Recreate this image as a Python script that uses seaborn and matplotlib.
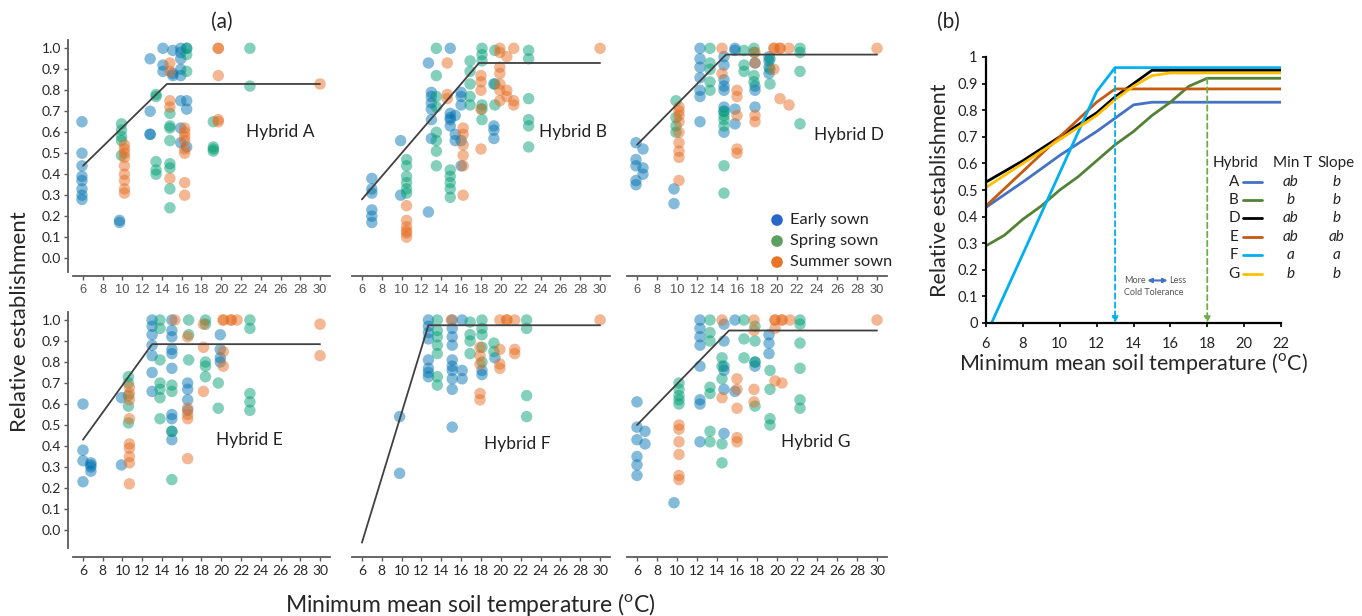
import matplotlib
matplotlib.use("Agg")
import matplotlib.pyplot as plt
import pandas as pd
import seaborn as sns

sns.set_style("white")
plt.rcParams['font.family'] = ['Lato', 'DejaVu Sans']
plt.rcParams['mathtext.fontset'] = 'custom'
plt.rcParams['mathtext.rm'] = 'Lato'

# ---------------- data : panel (a) ----------------
sowings = ["Early sown", "Spring sown", "Summer sown"]
x_ticks_a = [6, 8, 10, 12, 14, 16, 18, 20, 22, 24, 26, 28, 30]
y_ticks_a = [0.0, 0.1, 0.2, 0.3, 0.4, 0.5, 0.6, 0.7, 0.8, 0.9, 1.0]

A_early = [(5.9, [0.65, 0.50, 0.44, 0.39, 0.37, 0.33, 0.30, 0.28]), (9.7, [0.18, 0.17]),
           (12.8, [0.95, 0.70, 0.59, 0.59]), (14.1, [1.0, 0.92, 0.89]), (15.1, [0.99, 0.87, 0.88]),
           (15.9, [1.0, 0.98, 0.95, 0.90, 0.87, 0.75, 0.62, 0.55]), (16.5, [1.0, 0.75, 0.71, 0.53])]
A_spring = [(9.9, [0.64, 0.61, 0.58, 0.56, 0.49]), (13.4, [0.77, 0.78, 0.46, 0.42, 0.40]),
            (14.8, [0.69, 0.63, 0.62, 0.56, 0.45, 0.43, 0.33, 0.24]), (16.5, [1.0, 0.97, 0.89]),
            (19.2, [0.65, 0.53, 0.51, 0.52]), (22.9, [1.0, 0.82])]
A_summer = [(10.2, [0.54, 0.52, 0.50, 0.48, 0.44, 0.40, 0.37, 0.33, 0.31]),
            (14.8, [0.93, 0.89, 0.75, 0.72, 0.38]),
            (16.3, [0.62, 0.60, 0.58, 0.56, 0.52, 0.50, 0.36, 0.30]),
            (19.7, [1.0, 1.0, 0.87, 0.66, 0.65]), (30.0, [0.83])]

B_early = [(7.0, [0.38, 0.33, 0.31, 0.23, 0.20, 0.17]), (9.9, [0.56, 0.30]), (12.7, [0.93, 0.22]),
           (13.0, [0.79, 0.77, 0.74, 0.71, 0.66, 0.57]), (14.9, [1.0, 0.69, 0.67, 0.66, 0.63]),
           (15.4, [0.59, 0.56, 0.68]), (16.0, [0.79, 0.77, 0.73, 0.56, 0.44]),
           (19.3, [0.83, 0.63, 0.61, 0.57])]
B_spring = [(10.5, [0.47, 0.44, 0.39, 0.36, 0.33, 0.31]),
            (13.5, [1.0, 0.87, 0.77, 0.72, 0.60, 0.56, 0.51, 0.44]),
            (14.9, [0.42, 0.39, 0.36, 0.33, 0.29]), (16.9, [0.94, 0.89, 0.83, 0.77, 0.73]),
            (18.1, [1.0, 0.97, 0.94, 0.73, 0.71, 0.66]), (19.4, [0.99, 0.83, 0.73]),
            (22.8, [0.99, 0.95, 0.76, 0.66, 0.63, 0.53])]
B_summer = [(10.5, [0.25, 0.18, 0.15, 0.13, 0.12, 0.10]), (14.6, [0.93, 0.78, 0.76]),
            (16.2, [0.62, 0.59, 0.54, 0.49, 0.44, 0.30]), (18.0, [0.87, 0.84, 0.80, 0.71, 0.52]),
            (19.9, [1.0, 0.98, 0.91, 0.88, 0.83, 0.80, 0.75]), (20.6, [0.96, 0.80, 0.77]),
            (21.3, [1.0, 0.75, 0.73]), (30.0, [1.0])]

D_early = [(5.9, [0.55, 0.47, 0.44, 0.37, 0.35]), (6.6, [0.52, 0.43, 0.40]), (9.7, [0.33, 0.26]),
           (12.3, [1.0, 0.95, 0.91, 0.86, 0.80, 0.77, 0.65]),
           (14.7, [0.96, 0.92, 0.85, 0.82, 0.80, 0.72, 0.70, 0.60]), (15.8, [1.0, 0.99, 0.71, 0.64]),
           (17.8, [0.93, 0.82, 0.80, 0.72]), (19.2, [0.96, 0.94, 0.91, 0.88])]
D_spring = [(9.9, [0.75, 0.67, 0.63, 0.60]), (13.3, [1.0, 0.93, 0.90, 0.84, 0.80]),
            (14.7, [0.70, 0.68, 0.66, 0.63, 0.44, 0.31]), (16.7, [0.99, 0.92, 0.89]),
            (17.7, [1.0, 0.98, 0.87, 0.84]), (19.3, [0.95, 0.90, 0.83]), (22.3, [1.0, 0.98, 0.89, 0.64])]
D_summer = [(10.2, [0.72, 0.70, 0.68, 0.65, 0.60, 0.55, 0.51, 0.48, 0.37]), (14.5, [1.0, 0.88]),
            (16.0, [0.80, 0.77, 0.68, 0.52, 0.50]), (17.8, [0.98, 0.93, 0.68, 0.65]),
            (19.7, [1.0, 1.0, 0.90]), (20.3, [1.0, 1.0, 0.76]), (21.2, [1.0, 0.73]), (30.0, [1.0])]

E_early = [(6.0, [0.60, 0.38, 0.33, 0.23]), (6.8, [0.32, 0.31, 0.30, 0.28]), (9.9, [0.63, 0.31]),
           (13.0, [1.0, 0.97, 0.93, 0.88, 0.83, 0.75, 0.66]),
           (15.0, [1.0, 0.95, 0.92, 0.86, 0.84, 0.77, 0.55, 0.53, 0.47, 0.43]),
           (16.6, [0.70, 0.67, 0.62, 0.57]), (19.9, [0.93, 0.86, 0.82, 0.80])]
E_spring = [(10.6, [0.73, 0.70, 0.64, 0.59, 0.51]), (13.8, [1.0, 0.96, 0.81, 0.70, 0.67, 0.63, 0.53]),
            (15.0, [0.69, 0.66, 0.47, 0.24]), (16.7, [1.0, 0.93, 0.81]),
            (18.4, [1.0, 0.98, 0.80, 0.78, 0.73]), (19.7, [0.70, 0.58]),
            (22.9, [1.0, 0.96, 0.65, 0.61, 0.57])]
E_summer = [(10.7, [0.68, 0.65, 0.62, 0.53, 0.41, 0.39, 0.35, 0.32, 0.22]), (15.3, [1.0]),
            (16.6, [0.92, 0.58, 0.55, 0.53, 0.34]), (18.2, [0.98, 0.87, 0.66]),
            (20.2, [1.0, 1.0, 0.85, 0.78]), (21.0, [1.0, 1.0]), (21.6, [1.0]), (30.0, [0.98, 0.83])]

F_early = [(9.8, [0.54, 0.27]), (12.7, [1.0, 0.97, 0.94, 0.91, 0.81, 0.77, 0.75, 0.73]),
           (15.1, [1.0, 0.96, 0.92, 0.88, 0.81, 0.78, 0.76, 0.72, 0.67, 0.49]),
           (16.1, [1.0, 0.76, 0.72]), (18.1, [0.76, 0.74]), (19.4, [0.82])]
F_spring = [(13.6, [1.0, 0.95, 0.92, 0.88, 0.84, 0.73, 0.69]), (16.9, [0.99, 0.93, 0.90, 0.84]),
            (18.1, [1.0, 0.96, 0.93, 0.87, 0.80]), (19.3, [0.89, 0.85]), (22.6, [1.0, 0.96, 0.64, 0.54])]
F_summer = [(15.0, [1.0]), (17.9, [0.87, 0.83, 0.79, 0.65, 0.62]), (19.9, [1.0, 0.86, 0.79, 0.77]),
            (20.6, [1.0, 1.0]), (21.4, [1.0, 0.86, 0.84]), (30.0, [1.0])]

G_early = [(6.0, [0.61, 0.49, 0.43, 0.35, 0.31, 0.26]), (6.8, [0.47, 0.41]), (9.7, [0.13]),
           (12.3, [1.0, 0.96, 0.92, 0.88, 0.78, 0.62, 0.60, 0.42]),
           (14.7, [0.98, 0.90, 0.78, 0.76, 0.67, 0.46]), (15.8, [1.0, 0.66]), (17.8, [0.80, 0.78]),
           (19.2, [0.93, 0.89, 0.84])]
G_spring = [(10.2, [0.70, 0.67, 0.64, 0.62, 0.60]), (13.3, [1.0, 0.94, 0.90, 0.68, 0.65, 0.47, 0.42]),
            (14.5, [0.82, 0.78, 0.72, 0.41, 0.32]), (16.7, [1.0, 0.91, 0.82]),
            (17.8, [0.97, 0.90, 0.80, 0.59]), (19.3, [0.76, 0.67, 0.53, 0.50]),
            (22.3, [1.0, 0.98, 0.89, 0.77, 0.62, 0.58])]
G_summer = [(10.2, [0.50, 0.48, 0.42, 0.36, 0.26, 0.24]), (14.5, [1.0, 0.63]),
            (16.0, [0.72, 0.67, 0.58, 0.44, 0.42]), (17.7, [1.0, 0.95, 0.67, 0.61]),
            (19.8, [1.0, 1.0, 0.96, 0.71]), (20.5, [1.0, 1.0, 0.70]), (21.3, [1.0]), (30.0, [1.0])]

# broken-stick fits (x, y)
fit_A = ([6, 14.5, 30], [0.44, 0.83, 0.83])
fit_B = ([6, 17.8, 30], [0.28, 0.93, 0.93])
fit_D = ([6, 14.9, 30], [0.54, 0.97, 0.97])
fit_E = ([6, 13.0, 30], [0.43, 0.885, 0.885])
fit_F = ([6, 12.7, 30], [-0.06, 0.975, 0.975])
fit_G = ([6, 15.2, 30], [0.50, 0.95, 0.95])

# ---------------- data : panel (b) ----------------
b_A_x = [6, 8, 10, 12, 13, 14, 15, 22]
b_A_y = [0.435, 0.53, 0.63, 0.72, 0.77, 0.82, 0.83, 0.83]
b_B_x = [6, 7, 8, 9, 10, 11, 12, 13, 14, 15, 16, 17, 18, 22]
b_B_y = [0.29, 0.33, 0.39, 0.44, 0.50, 0.55, 0.61, 0.67, 0.72, 0.78, 0.83, 0.89, 0.92, 0.92]
b_D_x = [6, 8, 10, 12, 13, 14, 15, 22]
b_D_y = [0.53, 0.61, 0.70, 0.79, 0.85, 0.90, 0.95, 0.95]
b_E_x = [6, 8, 10, 12, 13, 22]
b_E_y = [0.44, 0.57, 0.70, 0.83, 0.88, 0.88]
b_F_x = [6.3, 12, 13, 22]
b_F_y = [0.0, 0.87, 0.96, 0.96]
b_G_x = [6, 8, 10, 12, 13, 14, 15, 16, 22]
b_G_y = [0.51, 0.60, 0.69, 0.78, 0.84, 0.89, 0.93, 0.94, 0.94]
b_hybrids = ["A", "B", "D", "E", "F", "G"]
b_minT = ["ab", "b", "ab", "ab", "a", "b"]
b_slope = ["b", "b", "b", "ab", "a", "b"]
b_colors = ["#4472C4", "#548235", "#000000", "#C55A11", "#00B0F0", "#FFC000"]
thresh_F, thresh_B = 13, 18

# ---------------- build frames ----------------
def frame(groups_by_sowing):
    rows = []
    for sow, groups in zip(sowings, groups_by_sowing):
        for x, ys in groups:
            for y in ys:
                rows.append({"x": x, "y": y, "sowing": sow})
    return pd.DataFrame(rows)

panels = [
    ("Hybrid A", frame([A_early, A_spring, A_summer]), fit_A, (22.5, 0.60)),
    ("Hybrid B", frame([B_early, B_spring, B_summer]), fit_B, (23.8, 0.60)),
    ("Hybrid D", frame([D_early, D_spring, D_summer]), fit_D, (23.7, 0.585)),
    ("Hybrid E", frame([E_early, E_spring, E_summer]), fit_E, (19.5, 0.43)),
    ("Hybrid F", frame([F_early, F_spring, F_summer]), fit_F, (18.3, 0.41)),
    ("Hybrid G", frame([G_early, G_spring, G_summer]), fit_G, (20.4, 0.42)),
]
palette = {"Early sown": "#0072B2", "Spring sown": "#009E73", "Summer sown": "#E66A1E"}
legend_colors = ["#2A66C8", "#5E9E5E", "#E8742A"]

W, H = 1362, 616
fig = plt.figure(figsize=(W / 100, H / 100), dpi=100)


def add_ax(l, t, r, b):
    return fig.add_axes([l / W, 1 - b / H, (r - l) / W, (b - t) / H])


cols = [(73.1, 329.9), (352, 610), (627, 887)]
rows_px = [(39.9, 276), (311.6, 547.9)]
grey = "#5a5a5a"
tick_font = ['Liberation Sans', 'DejaVu Sans']

for i, (name, df, fit, lab) in enumerate(panels):
    r, c = divmod(i, 3)
    ax = add_ax(cols[c][0], rows_px[r][0], cols[c][1], rows_px[r][1])
    sns.scatterplot(data=df, x="x", y="y", hue="sowing", palette=palette, hue_order=sowings,
                    s=68, alpha=0.48, edgecolor="none", linewidth=0, legend=False, ax=ax)
    ax.plot(fit[0], fit[1], color="#404040", lw=1.3, zorder=5)
    ax.set_xlim(5, 31)
    ax.set_ylim(-0.085, 1.04)
    ax.set_xlabel("")
    ax.set_ylabel("")
    ax.set_xticks(x_ticks_a)
    ax.set_xticklabels([str(t) for t in x_ticks_a], family=tick_font, fontsize=9.3, color="#555555")
    ax.tick_params(axis="x", direction="out", length=3, width=1, color=grey, pad=3, bottom=True)
    for s in ["top", "right"]:
        ax.spines[s].set_visible(False)
    ax.spines["bottom"].set_color(grey)
    ax.spines["bottom"].set_linewidth(1.3)
    if r == 1:
        ax.spines["bottom"].set_position(("outward", 6.5))
    if c == 0:
        ax.set_yticks(y_ticks_a)
        ax.set_yticklabels([f"{t:.1f}" for t in y_ticks_a], family=tick_font, fontsize=9.5,
                           color="#555555")
        ax.tick_params(axis="y", direction="out", length=3, width=1, color=grey, pad=2, left=True)
        ax.spines["left"].set_color(grey)
        ax.spines["left"].set_linewidth(1.3)
        ax.spines["left"].set_position(("outward", 3.6))
        if r == 0:
            ax.spines["left"].set_bounds(-0.065, 1.04)
    else:
        ax.spines["left"].set_visible(False)
        ax.set_yticks([])
    ax.text(lab[0], lab[1], name, fontsize=12.5, color="#222222", ha="left", va="center")
    ax.set_facecolor("none")
    if name == "Hybrid D":
        for k, (sow, col) in enumerate(zip(sowings, legend_colors)):
            yy = 0.237 - k * 0.089
            ax.scatter([0.577], [yy], s=70, color=col, edgecolor="none", transform=ax.transAxes,
                       clip_on=False, zorder=6)
            ax.text(0.627, yy, sow, fontsize=11.8, color="#222222", ha="left", va="center",
                    transform=ax.transAxes)

fig.text(222 / W, 1 - 22 / H, "(a)", fontsize=15, ha="center", va="center")
fig.text(20 / W, 1 - 322 / H, "Relative establishment", fontsize=16, rotation=90,
         ha="center", va="center")
fig.text(470 / W, 1 - 604 / H, r"Minimum mean soil temperature ($^{\mathrm{o}}$C)", fontsize=16.5,
         ha="center", va="center")

# ---------------- panel (b) ----------------
axb = add_ax(986, 57, 1281, 323)
b_xs = [b_A_x, b_B_x, b_D_x, b_E_x, b_F_x, b_G_x]
b_ys = [b_A_y, b_B_y, b_D_y, b_E_y, b_F_y, b_G_y]
for hx, hy, col in zip(b_xs, b_ys, b_colors):
    sns.lineplot(x=hx, y=hy, color=col, lw=2, ax=axb, sort=False, estimator=None)
axb.annotate("", xy=(thresh_F, 0.0), xytext=(thresh_F, 0.96),
             arrowprops=dict(arrowstyle="-|>", color="#00B0F0", lw=1.3, ls=(0, (3, 2)),
                             mutation_scale=9, shrinkA=0, shrinkB=0))
axb.annotate("", xy=(thresh_B, 0.0), xytext=(thresh_B, 0.92),
             arrowprops=dict(arrowstyle="-|>", color="#70AD47", lw=1.3, ls=(0, (3, 2)),
                             mutation_scale=9, shrinkA=0, shrinkB=0))
axb.text(13.5, 0.16, "More", fontsize=6.5, color="#555555", ha="left", va="center")
axb.annotate("", xy=(14.75, 0.16), xytext=(15.85, 0.16),
             arrowprops=dict(arrowstyle="<|-|>", color="#4472C4", lw=1.5, mutation_scale=6,
                             shrinkA=0, shrinkB=0))
axb.text(15.95, 0.16, "Less", fontsize=6.5, color="#555555", ha="left", va="center")
axb.text(13.5, 0.113, "Cold Tolerance", fontsize=6.5, color="#555555", ha="left", va="center")

# table legend
axb.text(18.3, 0.60, "Hybrid", fontsize=11, ha="left", va="center", color="#222222")
axb.text(22.65, 0.60, "Min T", fontsize=11, ha="center", va="center", color="#222222")
axb.text(25.0, 0.60, "Slope", fontsize=11, ha="center", va="center", color="#222222")
row_y = [0.53, 0.462, 0.393, 0.324, 0.256, 0.186]
for hyb, mt, sl, col, yy in zip(b_hybrids, b_minT, b_slope, b_colors, row_y):
    axb.text(19.45, yy, hyb, fontsize=11, ha="center", va="center", color="#222222")
    axb.plot([19.95, 20.95], [yy, yy], color=col, lw=2, clip_on=False)
    axb.text(22.5, yy, mt, fontsize=11, ha="center", va="center", style="italic", color="#222222")
    axb.text(25.0, yy, sl, fontsize=11, ha="center", va="center", style="italic", color="#222222")

axb.set_xlim(6, 22)
axb.set_ylim(0, 1)
axb.set_xticks(range(6, 23, 2))
axb.set_yticks([i / 10 for i in range(11)])
axb.set_yticklabels(["0"] + [f"{i / 10:.1f}" for i in range(1, 10)] + ["1"])
axb.tick_params(axis="both", direction="out", length=3, width=1.2, color="black", labelsize=10.5,
                labelcolor="#222222", left=True, bottom=True, pad=3)
axb.tick_params(axis="x", pad=7)
for s in ["top", "right"]:
    axb.spines[s].set_visible(False)
for s in ["left", "bottom"]:
    axb.spines[s].set_color("black")
    axb.spines[s].set_linewidth(1.6)
axb.set_xlabel(r"Minimum mean soil temperature ($^{\mathrm{o}}$C)", fontsize=15.5, labelpad=0)
axb.set_ylabel("Relative establishment", fontsize=15.5, labelpad=5)
axb.set_facecolor("none")
fig.text(948 / W, 1 - 22 / H, "(b)", fontsize=15, ha="center", va="center")

fig.savefig("out.png", dpi=100, facecolor="white")
